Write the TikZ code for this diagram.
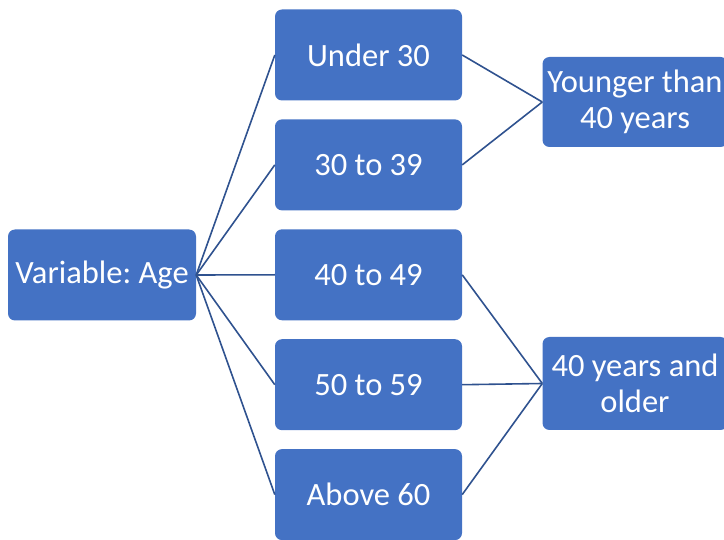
\documentclass[tikz,border=0pt]{standalone}
\usepackage{fontspec}
\setmainfont{Carlito}
\frenchspacing
\usetikzlibrary{positioning}
\definecolor{boxblue}{HTML}{4472C4}
\definecolor{lineblue}{HTML}{2F528F}
\tikzset{
  agebox/.style={fill=boxblue,text=white,rounded corners=7pt,align=center,
    minimum width=187pt,minimum height=91pt,inner sep=2pt,
    font=\fontsize{32.5}{36}\selectfont},
  link/.style={draw=lineblue,line width=1.6pt}
}
\begin{document}
\begin{tikzpicture}[x=1pt,y=-1pt]
        \useasboundingbox (0,0) rectangle (724,540);
        \clip (0,0) rectangle (724,540);
        \node[agebox,minimum width=188pt]
        (var) at (102,275) {Variable: Age};
        \node[agebox]
        (u30) at (368.5,55) {Under 30};
        \node[agebox,below=18.5pt of u30]
        (a30) {30 to 39};
        \node[agebox,below=18.5pt of a30]
        (a40) {40 to 49};
        \node[agebox,below=18.5pt of a40]
        (a50) {50 to 59};
        \node[agebox,below=18.5pt of a50]
        (a60) {Above 60};
        \node[agebox,minimum width=185pt,minimum height=90pt]
        (young) at (635,102) {Younger than\\40 years};
        \node[agebox,minimum width=185pt,minimum height=93pt]
        (old) at (635,383.5) {40 years and\\older};
        % left fan
        \foreach \m in {u30,a30,a40,a50,a60}
          \draw[link] (var.east) -- (\m.west);
        % right groups
        \foreach \m in {u30,a30}
          \draw[link] (\m.east) -- (young.west);
        \foreach \m in {a40,a50,a60}
          \draw[link] (\m.east) -- (old.west);
\end{tikzpicture}
\end{document}
